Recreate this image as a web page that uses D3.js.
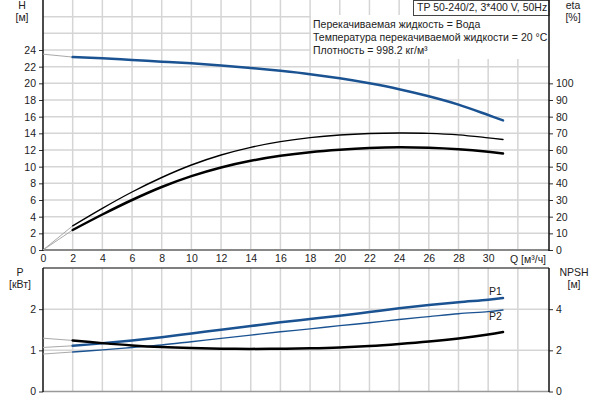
<!DOCTYPE html>
<html>
<head>
<meta charset="utf-8">
<script src="https://cdn.jsdelivr.net/npm/d3@7"></script>
<style>
  body { margin: 0; background: #fff; }
  text { font-family: "Liberation Sans", Arial, sans-serif; fill: #222; }
</style>
</head>
<body>
<div id="chart"></div>
<script>
// flow points, m3/h
var flow = [0, 2, 4, 6, 8, 10, 12, 14, 16, 18, 20, 22, 24, 26, 28, 30, 31];
// head, m
var head = [23.5, 23.15, 23.0, 22.8, 22.6, 22.4, 22.15, 21.85, 21.5, 21.1, 20.6, 20.0, 19.3, 18.45, 17.45, 16.2, 15.55];
// efficiency, %
var etaPump = [0, 14.5, 25.0, 34.8, 43.5, 51.0, 57.0, 61.6, 65.0, 67.4, 69.0, 69.9, 70.2, 70.0, 69.1, 67.3, 66.3];
var etaTotal = [0, 12, 21.3, 30.0, 37.8, 44.3, 49.5, 53.5, 56.5, 58.7, 60.2, 61.2, 61.6, 61.3, 60.4, 58.9, 57.9];
// power, kW
var powerP1 = [1.07, 1.11, 1.17, 1.24, 1.32, 1.41, 1.50, 1.59, 1.68, 1.76, 1.84, 1.93, 2.02, 2.10, 2.17, 2.23, 2.27];
var powerP2 = [0.91, 0.96, 1.01, 1.07, 1.13, 1.21, 1.29, 1.37, 1.45, 1.52, 1.60, 1.67, 1.75, 1.82, 1.89, 1.94, 1.98];
// NPSH, m
var npsh = [2.59, 2.48, 2.35, 2.24, 2.16, 2.11, 2.08, 2.07, 2.08, 2.10, 2.14, 2.21, 2.31, 2.43, 2.58, 2.77, 2.89];

var qTicks = d3.range(0, 32, 2);
var hTicks = d3.range(0, 26, 2);
var etaTicks = d3.range(0, 110, 10);
var pTicks = [0, 1, 2];
var npshTicks = [0, 2, 4];

var infoTitle = "TP 50-240/2, 3*400 V, 50Hz";
var infoLines = [
  "Перекачиваемая жидкость = Вода",
  "Температура перекачиваемой жидкости = 20 °C",
  "Плотность = 998.2 кг/м³"
];

var left = 43, right = 549;
var blue = "#1b5392", grid = "#d5d5d5", lead = "#a9a9a9";

var x = d3.scaleLinear().domain([0, 34.1]).range([left, right]);
var yH = d3.scaleLinear().domain([0, 30]).range([250, 0]);
var yEta = d3.scaleLinear().domain([0, 150]).range([250, 0]);
var yP = d3.scaleLinear().domain([0, 3]).range([391.5, 268]);
var yN = d3.scaleLinear().domain([0, 6]).range([391.5, 268]);

var svg = d3.select("#chart")
  .append("svg")
  .attr("width", 600)
  .attr("height", 400);

// grids
function vGrid(y0, y1) {
  svg.append("g").selectAll("line")
    .data(d3.range(2, 34, 2))
    .enter().append("line")
    .attr("x1", d => x(d)).attr("x2", d => x(d))
    .attr("y1", y0).attr("y2", y1)
    .attr("stroke", grid).attr("stroke-width", 1.5);
}
vGrid(0, 250);
vGrid(268, 391.5);

svg.append("g").selectAll("line")
  .data(d3.range(2, 30, 2))
  .enter().append("line")
  .attr("x1", left).attr("x2", right)
  .attr("y1", d => yH(d)).attr("y2", d => yH(d))
  .attr("stroke", grid).attr("stroke-width", 1.5);

svg.append("g").selectAll("line")
  .data([1, 2])
  .enter().append("line")
  .attr("x1", left).attr("x2", right)
  .attr("y1", d => yP(d)).attr("y2", d => yP(d))
  .attr("stroke", grid).attr("stroke-width", 1.5);

// info block
svg.append("rect")
  .attr("x", 311).attr("y", 15).attr("width", right - 311).attr("height", 44)
  .attr("fill", "#fff");
svg.append("rect")
  .attr("x", 413.5).attr("y", 0.5).attr("width", right - 413.5).attr("height", 15)
  .attr("fill", "#fff").attr("stroke", "#444");
svg.append("text")
  .attr("x", 417).attr("y", 11).style("font-size", "10.5px")
  .text(infoTitle);
svg.append("g").selectAll("text")
  .data(infoLines)
  .enter().append("text")
  .attr("x", 313).attr("y", (d, i) => 28 + i * 13)
  .style("font-size", "10.5px")
  .text(d => d);

// axes
function styleAxis(g) {
  g.select(".domain").remove();
  g.selectAll(".tick line").attr("stroke", "#333");
  g.selectAll(".tick text").style("font-size", "10.5px").attr("fill", "#222");
}

var fmt = d3.format("d");

svg.append("g")
  .attr("transform", "translate(" + left + ",0)")
  .call(d3.axisLeft(yH).tickValues(hTicks).tickFormat(fmt).tickSize(4).tickPadding(3))
  .call(styleAxis);
svg.append("g")
  .attr("transform", "translate(" + right + ",0)")
  .call(d3.axisRight(yEta).tickValues(etaTicks).tickFormat(fmt).tickSize(4).tickPadding(3))
  .call(styleAxis);
svg.append("g")
  .attr("transform", "translate(0,250)")
  .call(d3.axisBottom(x).tickValues(qTicks).tickFormat(fmt).tickSize(0).tickPadding(5))
  .call(styleAxis);
svg.append("g")
  .attr("transform", "translate(" + left + ",0)")
  .call(d3.axisLeft(yP).tickValues(pTicks).tickFormat(fmt).tickSize(4).tickPadding(3))
  .call(styleAxis);
svg.append("g")
  .attr("transform", "translate(" + right + ",0)")
  .call(d3.axisRight(yN).tickValues(npshTicks).tickFormat(fmt).tickSize(4).tickPadding(3))
  .call(styleAxis);

// frame lines
svg.append("line").attr("x1", left).attr("x2", right).attr("y1", 250).attr("y2", 250)
  .attr("stroke", "#888").attr("stroke-width", 2);
svg.append("line").attr("x1", left).attr("x2", left).attr("y1", 0).attr("y2", 251)
  .attr("stroke", "#111").attr("stroke-width", 1.5);
svg.append("line").attr("x1", right).attr("x2", right).attr("y1", 0).attr("y2", 251)
  .attr("stroke", "#111").attr("stroke-width", 1.5);
svg.append("line").attr("x1", left).attr("x2", right).attr("y1", 268).attr("y2", 268)
  .attr("stroke", "#555").attr("stroke-width", 1.5);
svg.append("line").attr("x1", left).attr("x2", right).attr("y1", 391.5).attr("y2", 391.5)
  .attr("stroke", "#999").attr("stroke-width", 1.5);
svg.append("line").attr("x1", left).attr("x2", left).attr("y1", 268).attr("y2", 392)
  .attr("stroke", "#111").attr("stroke-width", 1.5);
svg.append("line").attr("x1", right).attr("x2", right).attr("y1", 268).attr("y2", 392)
  .attr("stroke", "#111").attr("stroke-width", 1.5);

// axis titles
function label(tx, ty, s, anchor) {
  svg.append("text").attr("x", tx).attr("y", ty)
    .attr("text-anchor", anchor || "middle")
    .style("font-size", "10.5px").text(s);
}
label(22, 9, "H");
label(22, 21, "[м]");
label(573, 9, "eta");
label(573, 21, "[%]");
label(20, 276, "P");
label(20, 288, "[кВт]");
label(574, 276, "NPSH");
label(574, 288, "[м]");
label(510, 263, "Q [м³/ч]", "start");

// curves
function drawCurve(values, yScale, color, width) {
  var pts = flow.map((q, i) => [q, values[i]]);
  var line = d3.line()
    .x(d => x(d[0]))
    .y(d => yScale(d[1]))
    .curve(d3.curveCatmullRom.alpha(0.5));
  svg.append("path")
    .attr("d", line(pts.slice(0, 2)))
    .attr("fill", "none").attr("stroke", lead).attr("stroke-width", 1);
  svg.append("path")
    .attr("d", line(pts.slice(1)))
    .attr("fill", "none").attr("stroke", color)
    .attr("stroke-width", width).attr("stroke-linecap", "round");
}

drawCurve(head, yH, blue, 2.5);
drawCurve(etaPump, yEta, "#000", 1.4);
drawCurve(etaTotal, yEta, "#000", 2.5);
drawCurve(powerP1, yP, blue, 2.5);
drawCurve(powerP2, yP, blue, 1.4);
drawCurve(npsh, yN, "#000", 2.5);

label(489, 295, "P1", "start");
label(489, 320, "P2", "start");
</script>
</body>
</html>
